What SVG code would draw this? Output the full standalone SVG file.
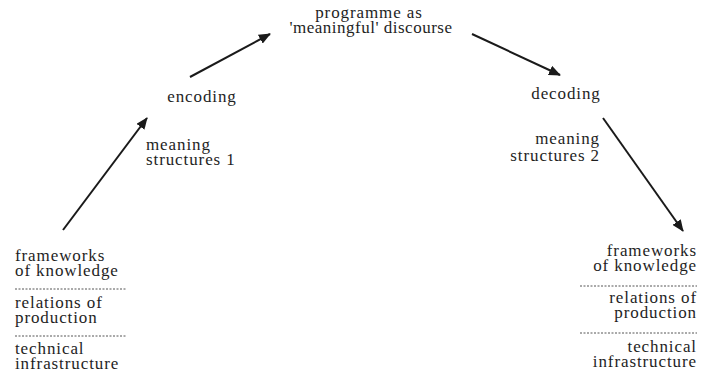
<svg xmlns="http://www.w3.org/2000/svg" width="702" height="375" viewBox="0 0 702 375">
<style>
.t{font-family:'Liberation Serif','DejaVu Serif',serif;font-size:17px;fill:#1e1e1e;letter-spacing:0.9px}
.r{text-anchor:end}
.m{text-anchor:middle}
.conn{stroke:#1a1a1a;stroke-width:2;fill:none}
.dot{stroke:#555;stroke-width:1;stroke-dasharray:2 1.5;fill:none}
</style>
<defs>
<marker id="ah" viewBox="0 0 12 10" refX="11" refY="5" markerWidth="12" markerHeight="10" markerUnits="userSpaceOnUse" orient="auto">
<path d="M0,0 L12,5 L0,10 Z" fill="#1a1a1a"/>
</marker>
</defs>
<rect width="702" height="375" fill="#fff"/>
<g id="connectors">
<line class="conn" x1="63" y1="230" x2="147" y2="118" marker-end="url(#ah)"/>
<line class="conn" x1="190" y1="77" x2="270" y2="34" marker-end="url(#ah)"/>
<line class="conn" x1="472" y1="34" x2="560" y2="75" marker-end="url(#ah)"/>
<line class="conn" x1="603" y1="118" x2="683" y2="231" marker-end="url(#ah)"/>
</g>
<g class="t">
<g id="programme">
<text class="m" x="369" y="18">programme as</text>
<text class="m" x="371" y="33" style="letter-spacing:0.5px">'meaningful' discourse</text>
</g>
<g id="encoding">
<text class="m" x="202" y="102">encoding</text>
</g>
<g id="decoding">
<text class="m" x="566" y="99">decoding</text>
</g>
<g id="meaning1">
<text x="146" y="150">meaning</text>
<text x="146" y="165">structures 1</text>
</g>
<g id="meaning2">
<text class="r" x="600" y="144">meaning</text>
<text class="r" x="600" y="161">structures 2</text>
</g>
<g id="left-stack">
<text x="15" y="261">frameworks</text>
<text x="15" y="276">of knowledge</text>
<line class="dot" x1="15" y1="289" x2="127" y2="289"/>
<text x="15" y="308">relations of</text>
<text x="15" y="323">production</text>
<line class="dot" x1="15" y1="336" x2="127" y2="336"/>
<text x="15" y="354">technical</text>
<text x="15" y="369">infrastructure</text>
</g>
<g id="right-stack">
<text class="r" x="697" y="256">frameworks</text>
<text class="r" x="697" y="271">of knowledge</text>
<line class="dot" x1="580" y1="286" x2="697" y2="286"/>
<text class="r" x="697" y="303">relations of</text>
<text class="r" x="697" y="318">production</text>
<line class="dot" x1="580" y1="333" x2="697" y2="333"/>
<text class="r" x="697" y="352">technical</text>
<text class="r" x="697" y="367">infrastructure</text>
</g>
</g>
</svg>
